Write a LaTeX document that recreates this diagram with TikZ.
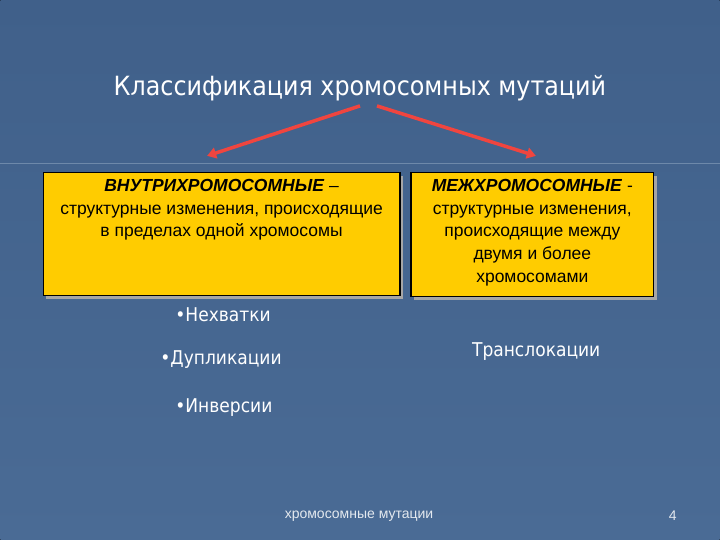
\documentclass[tikz,border=0pt]{standalone}
\usepackage{fontspec}
\setmainfont{Liberation Sans}
\newfontfamily\slidefont{DejaVu Sans Condensed}
\usetikzlibrary{positioning,arrows.meta,shadows}
\definecolor{slidebg}{HTML}{4A6B95}
\definecolor{slidetop}{HTML}{40608A}
\definecolor{boxgold}{HTML}{FFCC00}
\definecolor{arrowred}{HTML}{F0453F}
\begin{document}
\begin{tikzpicture}[x=1pt,y=-1pt,
  goldbox/.style={draw=black,line width=1.2pt,fill=boxgold,inner sep=0pt,
    drop shadow={shadow xshift=3pt,shadow yshift=-3pt,fill=gray!70,opacity=1}},
  boxtext/.style={align=center,font=\fontsize{17.5}{22.8}\selectfont,anchor=north,inner sep=0pt},
  item/.style={text=white,font=\slidefont\fontsize{19}{22}\selectfont,anchor=west,inner sep=0pt},
  redarrow/.style={draw=arrowred,line width=3.5pt,-{Triangle[length=9pt,width=11pt]}}]
\fill[top color=slidetop,bottom color=slidebg] (0,0) rectangle (720,540);
\draw[slidebg!80!white,line width=0.6pt] (0,163) -- (720,163);
\useasboundingbox (0,0) rectangle (720,540);
\node[text=white,font=\slidefont\fontsize{26.5}{30}\selectfont] (title) at (360,88) {Классификация хромосомных мутаций};
\node[goldbox,minimum width=357pt,minimum height=123pt] (intra) at (221.5,234.5) {};
\node[goldbox,minimum width=243pt,minimum height=124pt] (inter) at (532.5,235) {};
\node[boxtext] (intratext) at (221.5,179) {\textbf{\textit{ВНУТРИХРОМОСОМНЫЕ}} –\\структурные изменения, происходящие\\в пределах одной хромосомы};
\node[boxtext] (intertext) at (532.5,179) {\textbf{\textit{МЕЖХРОМОСОМНЫЕ}} -\\структурные изменения,\\происходящие между\\двумя и более\\хромосомами};
\coordinate (leftfrom) at (360,106);
\coordinate (rightfrom) at (377,106);
\coordinate (leftto) at (207,156);
\coordinate (rightto) at (536,156);
\draw[redarrow] (leftfrom) -- (leftto);
\draw[redarrow] (rightfrom) -- (rightto);
\node[item] (del) at (175,315) {•Нехватки};
\node[item] (dup) at (160,360) {•Дупликации};
\node[item] (inv) at (175,408) {•Инверсии};
\node[item] (trans) at (472,352) {Транслокации};
\node[text=white!85!slidebg,font=\fontsize{14}{16}\selectfont] (footer) at (359,517) {хромосомные мутации};
\node[text=white!85!slidebg,font=\fontsize{14}{16}\selectfont] (pagenum) at (673,516) {4};
\end{tikzpicture}
\end{document}
